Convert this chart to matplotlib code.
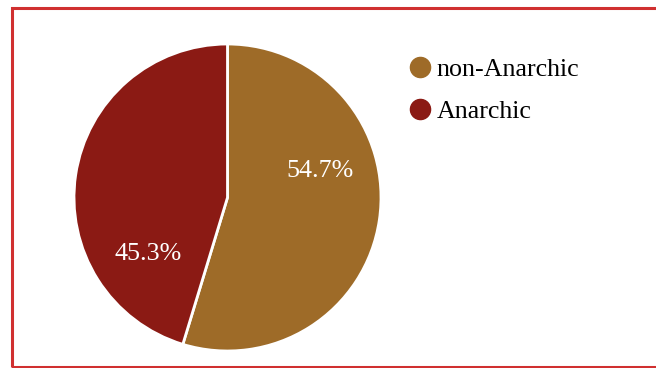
import matplotlib.pyplot as plt
from matplotlib.lines import Line2D
from matplotlib.patches import Rectangle

labels = ["non-Anarchic", "Anarchic"]
values = [54.7, 45.3]
colors = ["#9e6b28", "#8b1a14"]

plt.rcParams['font.family'] = ['Liberation Serif', 'DejaVu Serif']

fig = plt.figure(figsize=(6.56, 3.68), dpi=100)
W, H = 656, 368

# red frame (no right edge visible)
fig.patches.append(Rectangle((12 / W, 1 / H), 700 / W, 359 / H, transform=fig.transFigure,
                             fill=False, edgecolor="#d03030", linewidth=2.2))

ax = fig.add_axes([74 / W, 17 / H, 307 / W, 307 / H])
wedges, texts, autotexts = ax.pie(values, colors=colors, startangle=90, counterclock=False,
                                  autopct='%.1f%%', pctdistance=0.63,
                                  wedgeprops=dict(edgecolor="white", linewidth=2),
                                  textprops=dict(color="white", fontsize=18.7))
ax.set_xlim(-1, 1)
ax.set_ylim(-1, 1)
# labels sit a bit off the wedge centers in the original
autotexts[0].set_position((0.60, 0.17))
autotexts[1].set_position((-0.52, -0.37))

handles = [Line2D([], [], marker='o', linestyle='none', markersize=14.5,
                  markerfacecolor=c, markeredgecolor=c) for c in colors]
fig.legend(handles, labels, loc='upper left', bbox_to_anchor=(404 / W, 1 - 58 / H),
           frameon=False, fontsize=18.7, handletextpad=0.05, labelspacing=0.72,
           borderaxespad=0, borderpad=0, handlelength=1.2)

fig.savefig("out.png", dpi=100)
